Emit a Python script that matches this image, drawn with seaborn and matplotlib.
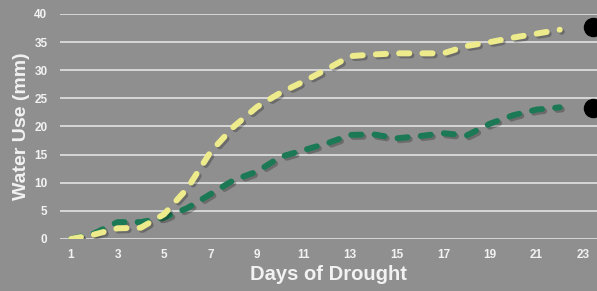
import numpy as np
import pandas as pd
import matplotlib
matplotlib.use("Agg")
import matplotlib.pyplot as plt
import matplotlib.patheffects as pe
from matplotlib.lines import Line2D
import seaborn as sns

# Data
days = list(range(1, 23))
series_a = [0, 0.8, 1.9, 2.0, 4.4, 9.0, 15.5, 20.0, 23.5, 26.0, 28.0,
            30.2, 32.5, 32.8, 33.0, 33.0, 33.0, 34.3, 35.0, 35.8, 36.5, 37.2]
series_b = [0, 1.0, 3.0, 3.0, 3.8, 5.5, 8.0, 10.5, 12.0, 14.6, 15.8,
            17.0, 18.5, 18.6, 17.9, 18.3, 18.8, 18.4, 20.5, 22.0, 23.0, 23.4]
x_ticks = list(range(1, 24, 2))
y_ticks = list(range(0, 41, 5))

bg = '#8f8f8f'
txt = '#f2f2f2'
colors = {'B': '#1b7a55', 'A': '#eeeb8c'}

df = pd.DataFrame({
    'day': days * 2,
    'use': series_b + series_a,
    'series': ['B'] * len(days) + ['A'] * len(days),
})

sns.set_style('white')
plt.rcParams['font.family'] = ['Liberation Sans', 'DejaVu Sans']

fig = plt.figure(figsize=(5.97, 2.91), dpi=100, facecolor=bg)
ax = fig.add_axes([0.1005, 0.1787, 0.8995, 0.7733], facecolor=bg)

sns.lineplot(data=df, x='day', y='use', hue='series', palette=colors,
             style='series', dashes={'A': (1.7, 2.2), 'B': (1.7, 2.2)},
             linewidth=4.3, legend=False, ax=ax, zorder=3)
for ln in ax.lines:
    ln.set_dash_capstyle('round')
    ln.set_path_effects([pe.SimpleLineShadow(offset=(1.5, -1.5), alpha=0.25),
                         pe.Normal()])

ax.set_xlim(0.527, 23.6)
ax.set_ylim(0, 40)
ax.set_xticks(x_ticks)
ax.set_yticks(y_ticks)
ax.yaxis.grid(True, color='#dcdcdc', linewidth=1.3, zorder=1)
ax.xaxis.grid(False)
for s in ax.spines.values():
    s.set_visible(False)
ax.tick_params(axis='both', length=0, colors=txt, labelsize=8.5)
ax.tick_params(axis='x', pad=7)
ax.tick_params(axis='y', pad=9)
for lab in ax.get_xticklabels() + ax.get_yticklabels():
    lab.set_fontweight('bold')

ax.set_xlabel('Days of Drought', color=txt, fontsize=14.5, fontweight='bold',
              labelpad=3)
ax.set_ylabel('Water Use (mm)', color=txt, fontsize=14, fontweight='bold',
              labelpad=3)

# legend dots, cut off at the right edge as in the original
for yf in (0.907, 0.629):
    fig.add_artist(Line2D([0.994], [yf], marker='o', markersize=13,
                          color='black', linestyle='none',
                          transform=fig.transFigure))

fig.savefig('out.png', dpi=100, facecolor=bg)
